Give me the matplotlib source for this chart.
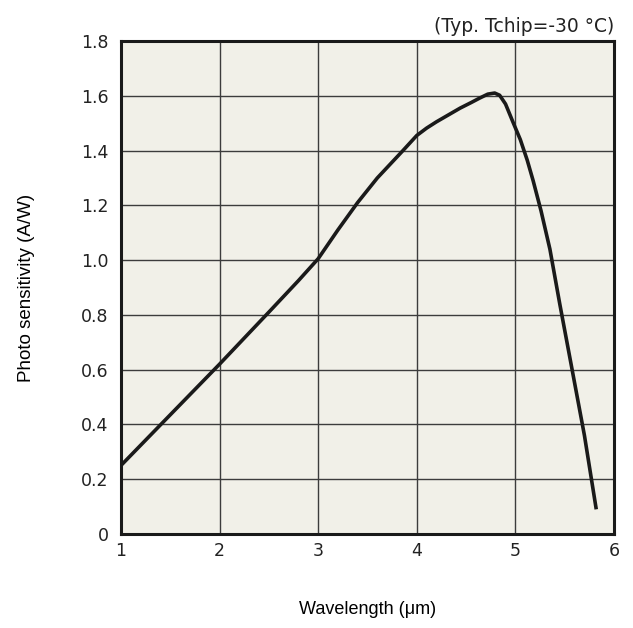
import matplotlib
matplotlib.use("Agg")
from matplotlib import pyplot as plt

wavelength = [1.0, 1.5, 2.0, 2.5, 2.8, 3.0, 3.2, 3.4, 3.6, 3.86, 4.0, 4.1, 4.2, 4.32, 4.44,
              4.55, 4.64, 4.72, 4.79, 4.84, 4.9, 4.98, 5.05, 5.12, 5.18, 5.26, 5.35, 5.45,
              5.57, 5.7, 5.82]
sensitivity = [0.25, 0.435, 0.62, 0.81, 0.925, 1.005, 1.11, 1.21, 1.30, 1.40, 1.455, 1.482, 1.505,
               1.53, 1.555, 1.575, 1.592, 1.606, 1.61, 1.602, 1.57, 1.50, 1.44, 1.365, 1.29,
               1.18, 1.04, 0.84, 0.61, 0.36, 0.09]

xticks = [1, 2, 3, 4, 5, 6]
yticks = [0, 0.2, 0.4, 0.6, 0.8, 1.0, 1.2, 1.4, 1.6, 1.8]
ylabels = ["0", "0.2", "0.4", "0.6", "0.8", "1.0", "1.2", "1.4", "1.6", "1.8"]

fig = plt.figure(figsize=(6.33, 6.28), dpi=100)
ax = fig.add_axes([0.191, 0.1497, 0.779, 0.785])
ax.set_facecolor("#f1f0e8")

for x in xticks[1:-1]:
    ax.axvline(x, color="#3c3c3c", lw=1, zorder=1)
for y in yticks[1:-1]:
    ax.axhline(y, color="#3c3c3c", lw=1, zorder=1)

ax.plot(wavelength, sensitivity, color="#1a1a1a", lw=2.6, zorder=3,
        solid_capstyle="butt", solid_joinstyle="round")

ax.set_xlim(1, 6)
ax.set_ylim(0, 1.8)
ax.set_xticks(xticks)
ax.set_yticks(yticks)
ax.set_yticklabels(ylabels)
ax.tick_params(axis="x", length=0, labelsize=12.5, colors="#222222", pad=6)
ax.tick_params(axis="y", length=0, labelsize=12.5, colors="#222222", pad=9)
for s in ax.spines.values():
    s.set_linewidth(2.2)
    s.set_color("#1a1a1a")

ax.set_xlabel("Wavelength (μm)", fontsize=13, family="Liberation Sans", labelpad=29)
ax.set_ylabel("Photo sensitivity (A/W)", fontsize=13.5, family="Liberation Sans", labelpad=33)
ax.text(1.0, 1.01, "(Typ. Tchip=-30 °C)", transform=ax.transAxes, ha="right", va="bottom",
        fontsize=13.5, color="#222222")

fig.savefig("out.png", dpi=100)
